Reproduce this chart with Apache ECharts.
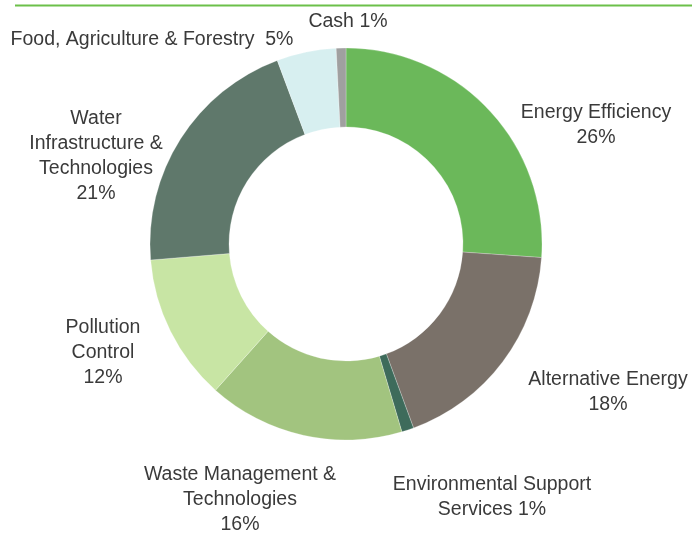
<!DOCTYPE html>
<html><head><meta charset="utf-8">
<script src="https://cdn.jsdelivr.net/npm/echarts@6/dist/echarts.min.js"></script>
<style>html,body{margin:0;padding:0;background:#fff}#c{width:692px;height:533px}</style>
</head><body><div id="c"></div>
<script>
const categories = ['Energy Efficiency','Alternative Energy','Environmental Support Services','Waste Management & Technologies','Pollution Control','Water Infrastructure & Technologies','Food, Agriculture & Forestry','Cash'];
const labelNames = ['Energy Efficiency\n','Alternative Energy\n','Environmental Support\nServices ','Waste Management &\nTechnologies\n','Pollution\nControl\n','Water\nInfrastructure &\nTechnologies\n','Food, Agriculture & Forestry  ','Cash '];
const values = [26.1, 18.3, 1.0, 16.2, 12.1, 20.6, 4.9, 0.8];
const colors = ['#6bb85a','#7a7169','#3e6b5b','#a2c47f','#c8e5a4','#5f786b','#d7eff0','#a0a0a0'];
const labelPos = [[596,125],[608,392],[492,497],[240,500],[103,353],[96,156],[152,40],[348,22]];

const chart = echarts.init(document.getElementById('c'), null, {renderer:'canvas'});
chart.setOption({
  animation:false,
  graphic:[{type:'line',shape:{x1:15,y1:5.5,x2:692,y2:5.5},style:{stroke:'#6cc04a',lineWidth:2}}],
  series:[{
    type:'pie',
    center:[346,244],
    radius:[117,196],
    startAngle:90,
    clockwise:true,
    avoidLabelOverlap:false,
    itemStyle:{borderColor:'rgba(255,255,255,0.5)',borderWidth:0.5},
    data: categories.map((n,i)=>({name:n,value:values[i],itemStyle:{color:colors[i]}})),
    label:{
      show:true,
      position:'outside',
      formatter:p=>labelNames[p.dataIndex]+Math.round(p.percent)+'%',
      fontFamily:'Liberation Sans, Arial, sans-serif',
      fontSize:19.5,
      lineHeight:25,
      color:'#3a3a3a',
      align:'center'
    },
    labelLine:{show:false},
    labelLayout:p=>({x:labelPos[p.dataIndex][0],y:labelPos[p.dataIndex][1],align:'center',verticalAlign:'middle',hideOverlap:false})
  }]
});
</script></body></html>
